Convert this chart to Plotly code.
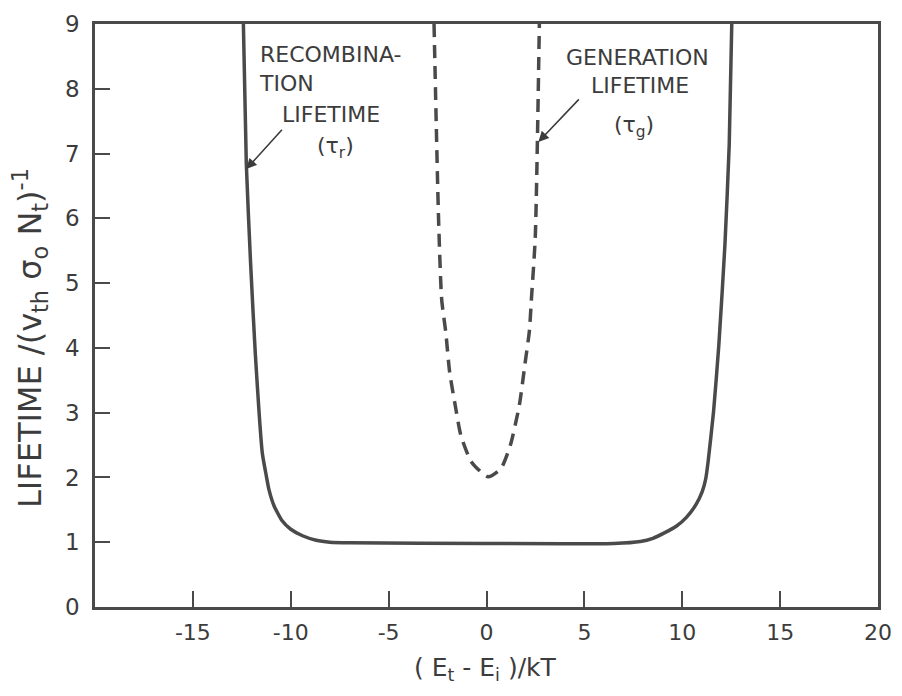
import plotly.graph_objects as go

# Recombination lifetime (solid)
recomb_x = [-12.42, -12.27, -12.05, -11.81, -11.45, -11.27, -11.12, -10.85, -10.46, -10.0,
            -9.4, -8.7, -8.0, -7.0, 0.0, 6.5, 7.86, 8.5, 9.06, 9.71, 10.2, 10.7, 11.02, 11.2,
            11.32, 11.6, 11.87, 12.18, 12.4, 12.53]
recomb_y = [9.0, 6.84, 5.3, 3.91, 2.37, 2.06, 1.82, 1.56, 1.34, 1.2,
            1.1, 1.03, 1.0, 0.99, 0.98, 0.98, 1.01, 1.06, 1.14, 1.25, 1.38, 1.58, 1.78, 1.98,
            2.24, 3.02, 4.05, 5.59, 7.14, 9.0]

# Generation lifetime (dashed)
gen_x = [-2.68, -2.45, -2.29, -2.08, -1.88, -1.59, -1.31, -0.77, 0.08, 0.74,
         1.22, 1.68, 1.96, 2.19, 2.3, 2.49, 2.7]
gen_y = [9.0, 6.0, 4.75, 4.24, 3.62, 3.1, 2.65, 2.24, 2.01, 2.14,
         2.5, 3.12, 3.74, 4.26, 4.78, 5.7, 9.0]

x_ticks = [-15, -10, -5, 0, 5, 10, 15, 20]
x_tick_labels = ["-15", "-10", "-5", "0", "5", "10", "15", "20"]
y_ticks = [0, 1, 2, 3, 4, 5, 6, 7, 8, 9]
y_tick_labels = ["0", "1", "2", "3", "4", "5", "6", "7", "8", "9"]

INK = "#4a4a4a"
TXT = "#3c3c3c"
FONT = "DejaVu Sans"

# page body has an 8px margin, so the figure is drawn 8px right/down;
# keep the page height within the window so no scrollbar appears
W, H = 894, 680
L, T, R, B = 87, 16, 24, 81
PW, PH = W - L - R, H - T - B

fig = go.Figure()
fig.add_trace(go.Scatter(x=recomb_x, y=recomb_y, mode="lines",
                         line=dict(color=INK, width=3.5, shape="spline", smoothing=0.5),
                         showlegend=False, hoverinfo="skip"))
fig.add_trace(go.Scatter(x=gen_x, y=gen_y, mode="lines",
                         line=dict(color=INK, width=3.5, dash="13px,8px", shape="spline", smoothing=0.6),
                         showlegend=False, hoverinfo="skip"))

annots = [
    dict(x=-11.72, y=8.3, text="RECOMBINA-<br>TION", xanchor="left", yanchor="middle", align="left"),
    dict(x=-10.55, y=7.6, text="LIFETIME", xanchor="left", yanchor="middle"),
    dict(x=-7.69, y=7.1, text="(τ<sub>r</sub>)", xanchor="center", yanchor="middle"),
    dict(x=7.73, y=8.48, text="GENERATION", xanchor="center", yanchor="middle"),
    dict(x=7.86, y=8.05, text="LIFETIME", xanchor="center", yanchor="middle"),
    dict(x=7.56, y=7.42, text="(τ<sub>g</sub>)", xanchor="center", yanchor="middle"),
]
for a in annots:
    a.update(xref="x", yref="y", showarrow=False,
             font=dict(family=FONT, size=22, color=TXT))

arrows = [
    dict(x=-12.27, y=6.76, ax=-10.38, ay=7.39),
    dict(x=2.65, y=7.18, ax=4.79, ay=7.86),
]
for a in arrows:
    a.update(xref="x", yref="y", axref="x", ayref="y", text="", showarrow=True,
             arrowhead=2, arrowsize=1.3, arrowwidth=1.6, arrowcolor=TXT)

titles = [
    dict(x=(30 - 8 - L) / PW, y=(H - B - (338 - 8)) / PH, xref="paper", yref="paper",
         text="LIFETIME /(v<sub>th</sub> σ<sub>o</sub> N<sub>t</sub>)<sup>-1</sup>",
         textangle=-90, showarrow=False, xanchor="center", yanchor="middle",
         font=dict(family=FONT, size=32, color=TXT)),
    dict(x=(485 - 8 - L) / PW, y=(H - B - (669 - 8)) / PH, xref="paper", yref="paper",
         text="( E<sub>t</sub> - E<sub>i</sub> )/kT", showarrow=False,
         xanchor="center", yanchor="middle",
         font=dict(family=FONT, size=25, color=TXT)),
]

fig.update_layout(
    width=W, height=H,
    margin=dict(l=L, r=R, t=T, b=B, autoexpand=False),
    paper_bgcolor="white", plot_bgcolor="white",
    annotations=annots + arrows + titles,
    showlegend=False,
)
fig.update_xaxes(range=[-20, 20], tickvals=x_ticks, ticktext=x_tick_labels,
                 ticks="inside", ticklen=16, tickwidth=2, tickcolor=INK,
                 showline=True, linecolor=INK, linewidth=2.5, mirror=True,
                 showgrid=False, zeroline=False, ticklabelstandoff=4, automargin=False,
                 ticklabeloverflow="allow",
                 tickfont=dict(family=FONT, size=22, color=TXT))
fig.update_yaxes(range=[0, 9], tickvals=y_ticks, ticktext=y_tick_labels,
                 ticks="inside", ticklen=15, tickwidth=2, tickcolor=INK,
                 showline=True, linecolor=INK, linewidth=2.5, mirror=True,
                 showgrid=False, zeroline=False, ticklabelstandoff=8, automargin=False,
                 ticklabeloverflow="allow",
                 tickfont=dict(family=FONT, size=23, color=TXT))

fig.write_html("out.html")
